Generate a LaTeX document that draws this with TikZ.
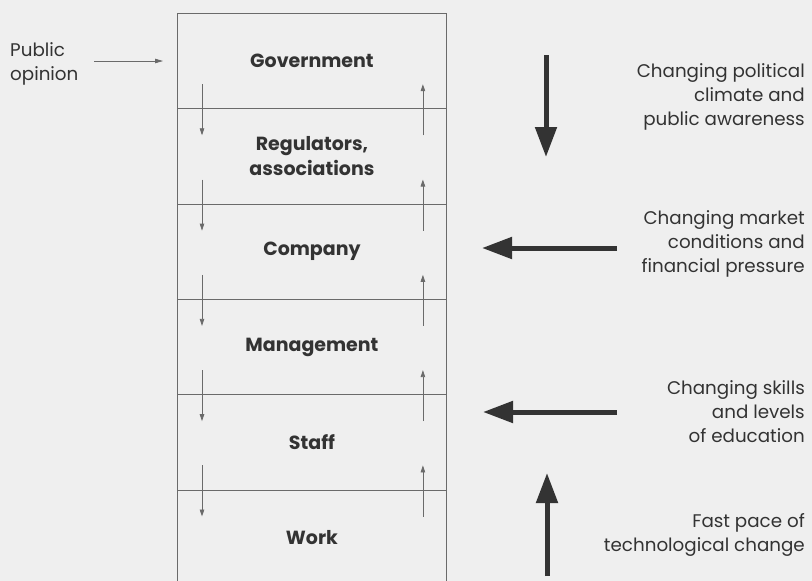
\documentclass[tikz,border=0pt]{standalone}
\usepackage{fontspec}
\setmainfont{Poppins}
\usetikzlibrary{arrows.meta,calc}
\definecolor{paper}{HTML}{EFEFEF}
\definecolor{ink}{HTML}{333333}
\definecolor{rule}{HTML}{6A6A6A}
\tikzset{
  level/.style={draw=rule, line width=0.9pt, minimum width=269pt, minimum height=95.3pt,
    inner sep=0pt, anchor=north west, align=center, text=ink,
    font=\fontsize{19}{25}\selectfont\bfseries},
  flow/.style={draw=rule, line width=0.8pt, -{Triangle[length=7pt,width=4.5pt]}},
  force/.style={draw=ink, line width=5pt, -{Triangle[length=30pt,width=21pt]}},
  side/.style={anchor=east, align=right, text=ink, inner sep=0pt,
    font=\fontsize{18.3}{24}\selectfont},
}
\begin{document}
\begin{tikzpicture}[x=1pt,y=-1pt]
\fill[paper] (0,0) rectangle (812,581);
\clip (0,0) rectangle (812,581);

% stacked levels
\node[level] (gov)  at (177,13)    {Government};
\node[level] (reg)  at (177,108.3) {Regulators,\\associations};
\node[level] (comp) at (177,203.6) {Company};
\node[level] (mgmt) at (177,298.9) {Management};
\node[level] (staff)at (177,394.2) {Staff};
\node[level] (work) at (177,489.5) {Work};

% downward and upward influence between neighbouring levels
\foreach \a/\b in {gov/reg, reg/comp, comp/mgmt, mgmt/staff, staff/work}{
  \draw[flow] ([xshift=25pt,yshift=25pt]\a.south west) -- ([xshift=25pt,yshift=-27pt]\b.north west);
  \draw[flow] ([xshift=-24pt,yshift=-27pt]\b.north east) -- ([xshift=-24pt,yshift=25pt]\a.south east);
}

% public opinion input
\node[anchor=west, align=left, text=ink, inner sep=0pt,
  font=\fontsize{18.3}{24}\selectfont] (pub) at (10,64) {Public\\opinion};
\coordinate (pubS) at (94,61);
\draw[rule, line width=0.8pt, -{Triangle[length=8pt,width=4.5pt]}]
  (pubS) -- ([xshift=-14pt]pubS -| gov.west);

% external forces
\node[side] (pol) at (805,97)  {Changing political\\climate and\\public awareness};
\node[side] (mkt) at (805,244) {Changing market\\conditions and\\financial pressure};
\node[side] (edu) at (805,412) {Changing skills\\and levels\\of education};
\node[side] (tec) at (805,534.5) {Fast pace of\\technological change};

\coordinate (polS) at (546,55);  \coordinate (polE) at (546,157);
\coordinate (mktS) at (617,248); \coordinate (mktE) at (482,248);
\coordinate (eduS) at (617,412); \coordinate (eduE) at (483,412);
\coordinate (tecS) at (547,576); \coordinate (tecE) at (547,473);
\draw[force] (polS) -- (polE);
\draw[force] (mktS) -- (mktE);
\draw[force] (eduS) -- (eduE);
\draw[force] (tecS) -- (tecE);
\end{tikzpicture}
\end{document}
